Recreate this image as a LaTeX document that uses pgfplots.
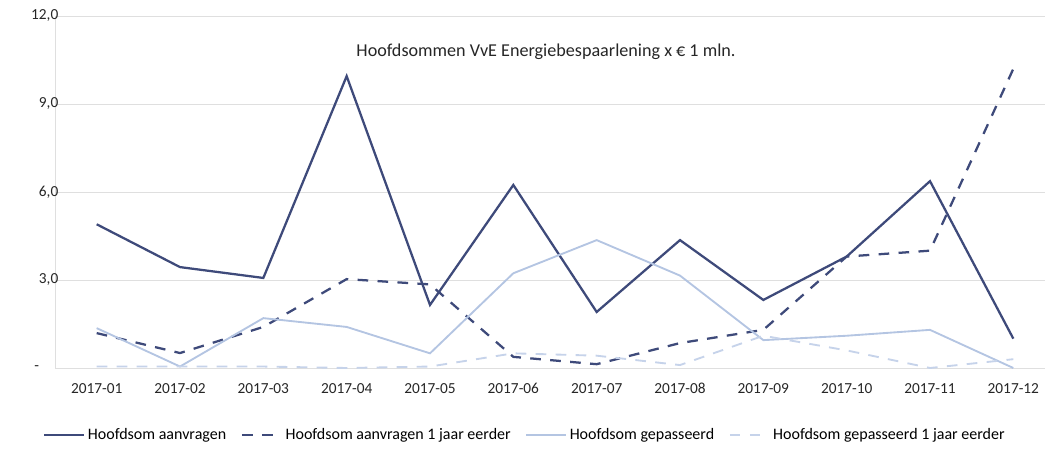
\documentclass[border=0pt]{standalone}
\usepackage{pgfplots}
\pgfplotsset{compat=1.18}
\usepackage{fontspec}
\setmainfont{Carlito}
\definecolor{darkb}{HTML}{3E4A7A}
\definecolor{lightb}{HTML}{B4C5E2}
\definecolor{lightd}{HTML}{C6D3EA}
\begin{document}
\begin{tikzpicture}
\begin{axis}[
  name=ax,
  scale only axis,
  width=742.5pt, height=264pt,
  xmin=-0.5, xmax=11.38,
  ymin=0, ymax=12,
  xtick={0,...,11},
  xticklabels={2017-01,2017-02,2017-03,2017-04,2017-05,2017-06,2017-07,2017-08,2017-09,2017-10,2017-11,2017-12},
  ytick={0,3,6,9,12},
  yticklabels={{\makebox[18pt][l]{-}},{3,0},{6,0},{9,0},{12,0}},
  major tick length=0pt,
  ymajorgrids,
  grid style={gray!25, line width=0.7pt},
  axis x line*=bottom, axis y line*=left,
  axis line style={-, draw=gray!25, line width=0.7pt},
  tick label style={font=\fontsize{11.5}{13}\selectfont, text=black!85},
  yticklabel shift=-6pt,
  xticklabel style={yshift=-8pt},
  legend style={at={(0.475,-0.19)}, anchor=center, draw=none, fill=none,
    font=\fontsize{12}{14}\selectfont, legend columns=-1,
    /tikz/every even column/.append style={column sep=9pt}},
  legend image code/.code={\draw[#1] (0cm,0cm) -- (1.05cm,0cm);},
]
\addplot[darkb, line width=1.7pt] coordinates {
(0,4.9) (1,3.44) (2,3.07) (3,9.95) (4,2.15) (5,6.24) (6,1.91) (7,4.36) (8,2.32) (9,3.8) (10,6.37) (11,1.0)};
\addlegendentry{Hoofdsom aanvragen}
\addplot[darkb, line width=1.7pt, dash pattern=on 8pt off 7pt] coordinates {
(0,1.19) (1,0.51) (2,1.4) (3,3.03) (4,2.85) (5,0.38) (6,0.13) (7,0.85) (8,1.3) (9,3.8) (10,4.0) (11,10.2)};
\addlegendentry{Hoofdsom aanvragen 1 jaar eerder}
\addplot[lightb, line width=1.4pt] coordinates {
(0,1.36) (1,0.05) (2,1.7) (3,1.4) (4,0.5) (5,3.23) (6,4.36) (7,3.15) (8,0.95) (9,1.1) (10,1.3) (11,0.0)};
\addlegendentry{Hoofdsom gepasseerd}
\addplot[lightd, line width=1.4pt, dash pattern=on 8pt off 7pt] coordinates {
(0,0.05) (1,0.05) (2,0.05) (3,0.0) (4,0.05) (5,0.5) (6,0.42) (7,0.1) (8,1.1) (9,0.6) (10,0.0) (11,0.3)};
\addlegendentry{Hoofdsom gepasseerd 1 jaar eerder}
\node[font=\fontsize{13.6}{15}\selectfont, text=black!85] at (axis description cs:0.496,0.898) {Hoofdsommen VvE Energiebespaarlening x € 1 mln.};
\end{axis}
\pgfresetboundingbox
\path (-41.25pt,-61.5pt) rectangle (742.5pt,276pt);
\end{tikzpicture}
\end{document}
